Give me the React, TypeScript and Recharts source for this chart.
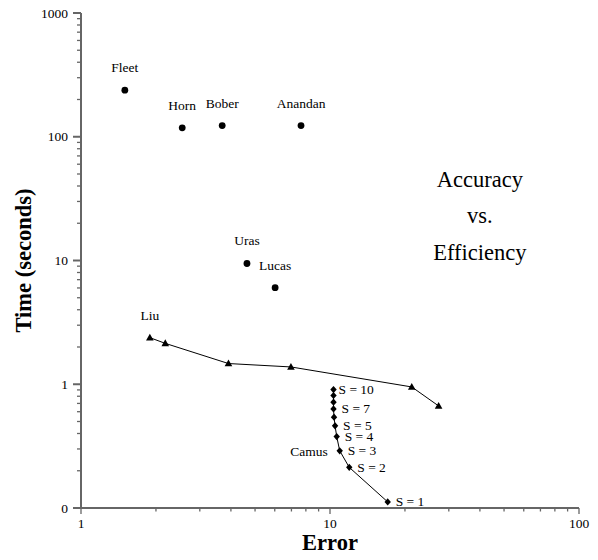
import React from 'react';
import { ScatterChart, Scatter, XAxis, YAxis, ReferenceDot } from 'recharts';

// single labelled results (circles)
const pointNames = ['Fleet', 'Horn', 'Bober', 'Anandan', 'Uras', 'Lucas'];
const pointError = [1.5, 2.55, 3.69, 7.65, 4.64, 6.02];
const pointTime = [238, 118, 123, 123, 9.46, 6.03];

// Liu (triangles, connected)
const liuError = [1.89, 2.18, 3.91, 6.97, 21.3, 27.3];
const liuTime = [2.38, 2.14, 1.47, 1.38, 0.951, 0.668];

// Camus (diamonds, connected), S = 10 .. 1
const camusS = [10, 9, 8, 7, 6, 5, 4, 3, 2, 1];
const camusError = [10.33, 10.33, 10.33, 10.33, 10.38, 10.48, 10.64, 10.94, 11.95, 17.05];
const camusTime = [0.906, 0.811, 0.716, 0.632, 0.542, 0.461, 0.378, 0.29, 0.213, 0.112];
const camusLabelled = [10, 7, 5, 4, 3, 2, 1];

// axes
const xTicks = [1, 2, 3, 4, 5, 6, 7, 8, 9, 10, 20, 30, 40, 50, 60, 70, 80, 90, 100];
const xMajor = [1, 10, 100];
const xTickLabels = ['1', '10', '100'];
const yTicks = [
  0.1, 0.2, 0.3, 0.4, 0.5, 0.6, 0.7, 0.8, 0.9,
  1, 2, 3, 4, 5, 6, 7, 8, 9,
  10, 20, 30, 40, 50, 60, 70, 80, 90,
  100, 200, 300, 400, 500, 600, 700, 800, 900,
  1000,
];
const yMajor = [0.1, 1, 10, 100, 1000];
const yTickLabels = ['0', '1', '10', '100', '1000'];

// annotation
const noteLines = ['Accuracy', 'vs.', 'Efficiency'];
const noteError = 40;
const noteTime = 20;

const FONT = '"Liberation Serif", "Times New Roman", serif';
const AXIS = '#666';

const pointData = pointNames.map((name, i) => ({ error: pointError[i], time: pointTime[i], name }));
const liuData = liuError.map((error, i) => ({ error, time: liuTime[i], name: i === 0 ? 'Liu' : '' }));
const camusData = camusS.map((s, i) => ({ error: camusError[i], time: camusTime[i], s }));

const XTick = (p: any) => {
  const v = p.payload.value;
  const idx = xMajor.indexOf(v);
  return (
    <g>
      <line x1={p.x} x2={p.x} y1={p.y} y2={p.y + (idx >= 0 ? 6 : 3.5)} stroke={AXIS} strokeWidth={1.3} />
      {idx >= 0 && (
        <text x={p.x} y={p.y + 20} textAnchor="middle" fontSize={13.5} fontFamily={FONT} fill="#000">
          {xTickLabels[idx]}
        </text>
      )}
    </g>
  );
};

const YTick = (p: any) => {
  const v = p.payload.value;
  const idx = yMajor.findIndex((m) => Math.abs(m - v) < 1e-9);
  return (
    <g>
      <line x1={p.x} x2={p.x - (idx >= 0 ? 8 : 4)} y1={p.y} y2={p.y} stroke={AXIS} strokeWidth={idx >= 0 ? 2 : 1.3} />
      {idx >= 0 && (
        <text x={p.x - 13} y={p.y} textAnchor="end" dominantBaseline="central" fontSize={13.5} fontFamily={FONT} fill="#000">
          {yTickLabels[idx]}
        </text>
      )}
    </g>
  );
};

const DotShape = (p: any) => {
  const name = p.payload?.name ?? p.name;
  return (
    <g>
      <circle cx={p.cx} cy={p.cy} r={3.4} fill="#000" />
      <text x={p.cx} y={p.cy - 18} textAnchor="middle" fontSize={13.5} fontFamily={FONT} fill="#000">
        {name}
      </text>
    </g>
  );
};

const TriangleShape = (p: any) => {
  const { cx, cy } = p;
  const name = p.payload?.name ?? p.name;
  return (
    <g>
      <polygon points={`${cx},${cy - 4} ${cx - 3.8},${cy + 2.8} ${cx + 3.8},${cy + 2.8}`} fill="#000" />
      {name && (
        <text x={cx} y={cy - 18} textAnchor="middle" fontSize={13.5} fontFamily={FONT} fill="#000">
          {name}
        </text>
      )}
    </g>
  );
};

const DiamondShape = (p: any) => {
  const { cx, cy } = p;
  const s = p.payload?.s ?? p.s;
  return (
    <g>
      <polygon points={`${cx},${cy - 3.6} ${cx + 3.2},${cy} ${cx},${cy + 3.6} ${cx - 3.2},${cy}`} fill="#000" />
      {camusLabelled.includes(s) && (
        <text x={cx + (s === 10 ? 5 : 8)} y={cy} dominantBaseline="central" fontSize={13.5} fontFamily={FONT} fill="#000">
          {`S = ${s}`}
        </text>
      )}
      {s === 3 && (
        <text x={cx - 12} y={cy + 1} textAnchor="end" dominantBaseline="central" fontSize={13.5} fontFamily={FONT} fill="#000">
          Camus
        </text>
      )}
    </g>
  );
};

const NoteShape = (p: any) => (
  <text x={p.cx} y={p.cy} textAnchor="middle" fontSize={22.5} fontFamily={FONT} fill="#000">
    {noteLines.map((t, i) => (
      <tspan key={t} x={p.cx} y={p.cy + (i - 1) * 36.5}>
        {t}
      </tspan>
    ))}
  </text>
);

const XTitle = (p: any) => {
  const vb = p.viewBox;
  return (
    <text x={vb.x + vb.width / 2} y={vb.y + 42} textAnchor="middle" fontSize={22.5} fontWeight="bold" fontFamily={FONT} fill="#000">
      Error
    </text>
  );
};

const YTitle = (p: any) => {
  const vb = p.viewBox;
  const cx = vb.x + 15;
  const cy = vb.y + vb.height / 2;
  return (
    <text x={cx} y={cy} transform={`rotate(-90 ${cx} ${cy})`} textAnchor="middle" dominantBaseline="central" fontSize={22.5} fontWeight="bold" fontFamily={FONT} fill="#000">
      Time (seconds)
    </text>
  );
};

export default function App() {
  return (
    <div style={{ width: 590, height: 552 }}>
      <ScatterChart width={590} height={552} margin={{ top: 5, right: 19, bottom: 0, left: 0 }}>
        <XAxis
          type="number"
          dataKey="error"
          scale="log"
          domain={[1, 100]}
          allowDataOverflow
          ticks={xTicks}
          interval={0}
          tick={XTick}
          tickLine={false}
          tickSize={0}
          tickMargin={0}
          height={52}
          axisLine={{ stroke: AXIS, strokeWidth: 2 }}
          label={XTitle}
        />
        <YAxis
          type="number"
          dataKey="time"
          scale="log"
          domain={[0.1, 1000]}
          allowDataOverflow
          ticks={yTicks}
          interval={0}
          tick={YTick}
          tickLine={false}
          tickSize={0}
          tickMargin={0}
          width={73}
          axisLine={{ stroke: AXIS, strokeWidth: 2 }}
          label={YTitle}
        />
        <Scatter data={pointData} shape={DotShape} isAnimationActive={false} />
        <Scatter data={liuData} shape={TriangleShape} line={{ stroke: '#000', strokeWidth: 1 }} isAnimationActive={false} />
        <Scatter data={camusData} shape={DiamondShape} line={{ stroke: '#000', strokeWidth: 1 }} isAnimationActive={false} />
        <ReferenceDot x={noteError} y={noteTime} shape={NoteShape} ifOverflow="visible" />
      </ScatterChart>
    </div>
  );
}
